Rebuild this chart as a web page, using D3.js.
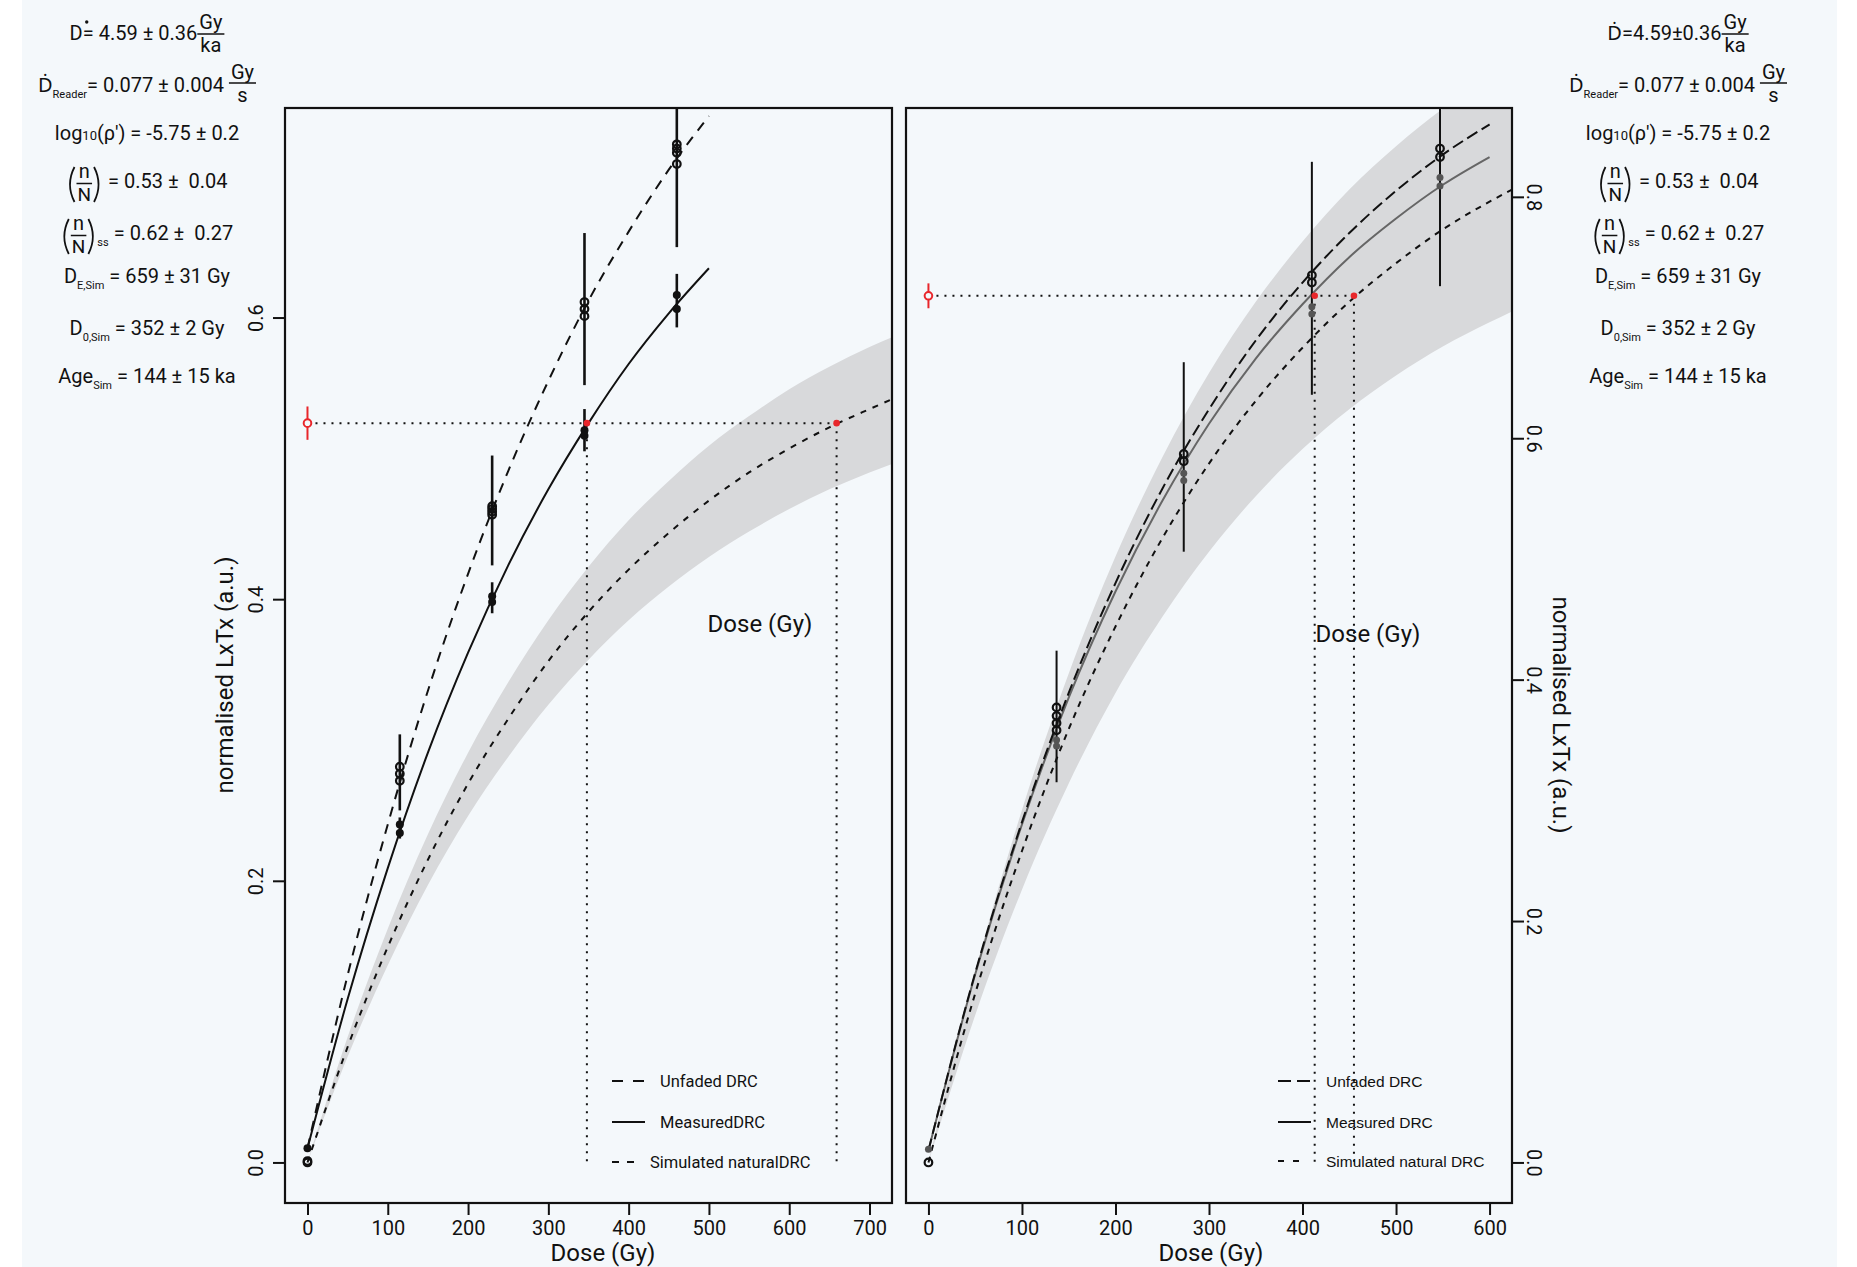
<!DOCTYPE html>
<html>
<head>
<meta charset="utf-8">
<title>DRC simulation</title>
<script src="https://d3js.org/d3.v7.min.js"></script>
<style>
  body { margin: 0; background: #fff; }
  svg text { font-family: Roboto, "Noto Sans", sans-serif; fill: #111; }
  .axis line { stroke: #111; stroke-width: 2px; }
  .axis path { display: none; }
  .axis text { font-size: 20px; font-family: Roboto, sans-serif; }
</style>
</head>
<body>
<svg id="chart" width="1857" height="1267"></svg>
<script>
// ---- left panel data ----
const leftCurveDose = [0, 50, 100, 150, 200, 250, 300, 350, 400, 450, 500];
const leftUnfaded   = [0.010, 0.133, 0.240, 0.335, 0.418, 0.491, 0.555, 0.612, 0.661, 0.705, 0.743];
const leftMeasured  = [0.010, 0.116, 0.209, 0.291, 0.362, 0.424, 0.478, 0.525, 0.567, 0.603, 0.635];
const leftSimDose   = [0, 50, 100, 150, 200, 250, 300, 350, 400, 450, 500, 550, 600, 650, 700, 728];
const leftSimulated = [0.000, 0.082, 0.153, 0.215, 0.269, 0.315, 0.356, 0.391, 0.421, 0.447, 0.470, 0.490, 0.507, 0.522, 0.535, 0.542];
const leftBandUpper = [0.000, 0.089, 0.166, 0.233, 0.291, 0.341, 0.385, 0.423, 0.456, 0.484, 0.509, 0.530, 0.549, 0.565, 0.579, 0.586];
const leftBandLower = [0.000, 0.075, 0.140, 0.197, 0.246, 0.288, 0.325, 0.357, 0.385, 0.409, 0.430, 0.448, 0.464, 0.478, 0.490, 0.496];

const leftOpenDose   = [0, 0, 115, 115, 115, 230, 230, 230, 230, 345, 345, 345, 460, 460, 460, 460];
const leftOpenLx     = [0.000, 0.001, 0.281, 0.276, 0.271, 0.466, 0.464, 0.462, 0.460, 0.611, 0.606, 0.601, 0.723, 0.720, 0.717, 0.709];
const leftFilledDose = [0, 115, 115, 230, 230, 345, 345, 460, 460];
const leftFilledLx   = [0.010, 0.240, 0.234, 0.402, 0.398, 0.520, 0.516, 0.616, 0.606];
const leftBarDose = [115, 230, 345, 460, 115, 230, 345, 460];
const leftBarLow  = [0.250, 0.424, 0.552, 0.650, 0.230, 0.390, 0.505, 0.593];
const leftBarHigh = [0.304, 0.502, 0.660, 0.790, 0.245, 0.412, 0.535, 0.631];
const leftNatural = [0.525, 0.516, 0.534];   // value, low, high
const leftDe = [348, 659];

// ---- right panel data ----
const rightCurveDose = [0, 50, 100, 150, 200, 250, 300, 350, 400, 450, 500, 550, 600];
const rightUnfaded   = [0.010, 0.157, 0.282, 0.389, 0.480, 0.558, 0.624, 0.681, 0.729, 0.770, 0.805, 0.835, 0.860];
const rightMeasured  = [0.010, 0.156, 0.280, 0.385, 0.473, 0.548, 0.612, 0.666, 0.711, 0.750, 0.782, 0.810, 0.833];
const rightSimDose   = [0, 50, 100, 150, 200, 250, 300, 350, 400, 450, 500, 550, 600, 624];
const rightSimulated = [0.000, 0.140, 0.258, 0.359, 0.444, 0.517, 0.579, 0.631, 0.675, 0.713, 0.745, 0.773, 0.796, 0.806];
const rightBandUpper = [0.000, 0.158, 0.292, 0.405, 0.502, 0.584, 0.654, 0.713, 0.763, 0.806, 0.842, 0.873, 0.899, 0.910];
const rightBandLower = [0.000, 0.122, 0.226, 0.314, 0.389, 0.452, 0.506, 0.552, 0.591, 0.624, 0.652, 0.676, 0.696, 0.705];

const rightOpenDose   = [0, 137, 137, 137, 137, 273, 273, 410, 410, 547, 547];
const rightOpenLx     = [0.000, 0.377, 0.370, 0.364, 0.358, 0.587, 0.581, 0.735, 0.729, 0.840, 0.833];
const rightFilledDose = [0, 137, 137, 273, 273, 410, 410, 547, 547];
const rightFilledLx   = [0.011, 0.350, 0.345, 0.571, 0.565, 0.709, 0.703, 0.816, 0.809];
const rightBarDose = [137, 273, 410, 547];
const rightBarLow  = [0.315, 0.506, 0.636, 0.726];
const rightBarHigh = [0.424, 0.663, 0.829, 0.900];
const rightNatural = [0.718, 0.711, 0.725];
const rightDe = [413, 455];

// ---- ticks and labels ----
const leftXTicks = [0, 100, 200, 300, 400, 500, 600, 700];
const leftYTicks = [0, 0.2, 0.4, 0.6];
const rightXTicks = [0, 100, 200, 300, 400, 500, 600];
const rightYTicks = [0, 0.2, 0.4, 0.6, 0.8];
const leftLegend = ["Unfaded DRC", "MeasuredDRC", "Simulated naturalDRC"];
const rightLegend = ["Unfaded DRC", "Measured DRC", "Simulated natural DRC"];

// annotation values
const doseRate = ["4.59", "0.36"];
const readerRate = ["0.077", "0.004"];
const rhoLog = ["-5.75", "0.2"];
const nN = ["0.53", "0.04"];
const nNss = ["0.62", "0.27"];
const deSim = ["659", "31"];
const d0Sim = ["352", "2"];
const ageSim = ["144", "15"];

const svg = d3.select("#chart");
svg.append("rect").attr("x", 22).attr("y", 0).attr("width", 1815).attr("height", 1267).attr("fill", "#f4f8fb");

const RED = "#e8262b";

function drawPanel(p) {
  const x = d3.scaleLinear().domain(p.xDomain).range([p.left, p.right]);
  const y = d3.scaleLinear().domain(p.yDomain).range([p.bottom, p.top]);

  svg.append("clipPath").attr("id", p.id).append("rect")
    .attr("x", p.left).attr("y", p.top)
    .attr("width", p.right - p.left).attr("height", p.bottom - p.top);
  const g = svg.append("g").attr("clip-path", `url(#${p.id})`);

  // uncertainty band of the simulated curve
  const area = d3.area().x(d => x(d[0])).y0(d => y(d[1])).y1(d => y(d[2])).curve(d3.curveMonotoneX);
  g.append("path").datum(d3.zip(p.simDose, p.bandLower, p.bandUpper))
    .attr("d", area).attr("fill", "#d8d9db");

  // dotted De lines
  const nat = p.natural;
  g.append("line").attr("x1", x(0)).attr("x2", x(d3.max(p.de)))
    .attr("y1", y(nat[0])).attr("y2", y(nat[0]))
    .attr("stroke", "#111").attr("stroke-width", 2).attr("stroke-dasharray", "2 6");
  g.selectAll(".deline").data(p.de).enter().append("line")
    .attr("x1", d => x(d)).attr("x2", d => x(d))
    .attr("y1", y(nat[0])).attr("y2", y(0))
    .attr("stroke", "#111").attr("stroke-width", 2).attr("stroke-dasharray", "2 6");

  const line = d3.line().x(d => x(d[0])).y(d => y(d[1])).curve(d3.curveMonotoneX);
  g.append("path").datum(d3.zip(p.simDose, p.simulated)).attr("d", line)
    .attr("fill", "none").attr("stroke", "#111").attr("stroke-width", 2).attr("stroke-dasharray", p.shortDash);
  g.append("path").datum(d3.zip(p.curveDose, p.measured)).attr("d", line)
    .attr("fill", "none").attr("stroke", p.measuredColor).attr("stroke-width", 2);
  g.append("path").datum(d3.zip(p.curveDose, p.unfaded)).attr("d", line)
    .attr("fill", "none").attr("stroke", "#111").attr("stroke-width", 2).attr("stroke-dasharray", p.longDash);

  // error bars
  g.selectAll(".bar").data(d3.zip(p.barDose, p.barLow, p.barHigh)).enter().append("line")
    .attr("x1", d => x(d[0])).attr("x2", d => x(d[0]))
    .attr("y1", d => y(d[1])).attr("y2", d => y(d[2]))
    .attr("stroke", "#111").attr("stroke-width", p.barWidth);

  // points
  g.selectAll(".filled").data(d3.zip(p.filledDose, p.filledLx)).enter().append("circle")
    .attr("cx", d => x(d[0])).attr("cy", d => y(d[1])).attr("r", p.filledR)
    .attr("fill", p.filledColor);
  g.selectAll(".open").data(d3.zip(p.openDose, p.openLx)).enter().append("circle")
    .attr("cx", d => x(d[0])).attr("cy", d => y(d[1])).attr("r", 3.8)
    .attr("fill", "none").attr("stroke", "#111").attr("stroke-width", 2.2);

  // natural signal and De points
  g.append("line").attr("x1", x(0)).attr("x2", x(0)).attr("y1", y(nat[1]) + 4).attr("y2", y(nat[2]) - 4)
    .attr("stroke", RED).attr("stroke-width", 2);
  g.append("circle").attr("cx", x(0)).attr("cy", y(nat[0])).attr("r", 3.8)
    .attr("fill", "#f4f8fb").attr("stroke", RED).attr("stroke-width", 2);
  g.selectAll(".de").data(p.de).enter().append("circle")
    .attr("cx", d => x(d)).attr("cy", y(nat[0])).attr("r", 3.3).attr("fill", RED);

  // box
  svg.append("rect").attr("x", p.left).attr("y", p.top)
    .attr("width", p.right - p.left).attr("height", p.bottom - p.top)
    .attr("fill", "none").attr("stroke", "#111").attr("stroke-width", 2.2);

  // axes
  svg.append("g").attr("class", "axis").attr("transform", `translate(0,${p.bottom})`)
    .call(d3.axisBottom(x).tickValues(p.xTicks).tickSize(12).tickPadding(6).tickFormat(d3.format("d")));
  if (p.ySide === "left") {
    const ax = svg.append("g").attr("class", "axis").attr("transform", `translate(${p.left},0)`)
      .call(d3.axisLeft(y).tickValues(p.yTicks).tickSize(12).tickFormat(d3.format(".1f")));
    ax.selectAll(".tick text").attr("transform", "rotate(-90)").attr("x", 0).attr("y", -29)
      .attr("dy", "0.35em").attr("text-anchor", "middle");
  } else {
    const ax = svg.append("g").attr("class", "axis").attr("transform", `translate(${p.right},0)`)
      .call(d3.axisRight(y).tickValues(p.yTicks).tickSize(12).tickFormat(d3.format(".1f")));
    ax.selectAll(".tick text").attr("transform", "rotate(90)").attr("x", 0).attr("y", -22)
      .attr("dy", "0.35em").attr("text-anchor", "middle");
  }
  return { x, y };
}

drawPanel({
  id: "clipL", left: 285, right: 892, top: 108, bottom: 1203,
  xDomain: [-28, 728], yDomain: [-0.0288, 0.7488],
  curveDose: leftCurveDose, unfaded: leftUnfaded, measured: leftMeasured,
  simDose: leftSimDose, simulated: leftSimulated, bandUpper: leftBandUpper, bandLower: leftBandLower,
  openDose: leftOpenDose, openLx: leftOpenLx, filledDose: leftFilledDose, filledLx: leftFilledLx,
  barDose: leftBarDose, barLow: leftBarLow, barHigh: leftBarHigh,
  natural: leftNatural, de: leftDe,
  xTicks: leftXTicks, yTicks: leftYTicks, ySide: "left",
  longDash: "10 8", shortDash: "6 7", measuredColor: "#111",
  filledColor: "#111", filledR: 4, barWidth: 2.6
});

drawPanel({
  id: "clipR", left: 906, right: 1512, top: 108, bottom: 1203,
  xDomain: [-24, 624], yDomain: [-0.0336, 0.8736],
  curveDose: rightCurveDose, unfaded: rightUnfaded, measured: rightMeasured,
  simDose: rightSimDose, simulated: rightSimulated, bandUpper: rightBandUpper, bandLower: rightBandLower,
  openDose: rightOpenDose, openLx: rightOpenLx, filledDose: rightFilledDose, filledLx: rightFilledLx,
  barDose: rightBarDose, barLow: rightBarLow, barHigh: rightBarHigh,
  natural: rightNatural, de: rightDe,
  xTicks: rightXTicks, yTicks: rightYTicks, ySide: "right",
  longDash: "12 5", shortDash: "6 6", measuredColor: "#666",
  filledColor: "#555", filledR: 3.5, barWidth: 2
});

// axis titles
function title(txt, x, y, rot, size) {
  svg.append("text").attr("transform", `translate(${x},${y}) rotate(${rot})`)
    .attr("text-anchor", "middle").style("font-size", size + "px").text(txt);
}
title("Dose (Gy)", 603, 1261, 0, 24);
title("Dose (Gy)", 1211, 1261, 0, 24);
title("normalised LxTx (a.u.)", 233, 675, -90, 24);
title("normalised LxTx (a.u.)", 1553, 715, 90, 24);
title("Dose (Gy)", 760, 632, 0, 24);
title("Dose (Gy)", 1368, 642, 0, 24);

// legends
function legend(items, x0, x1s, xt, ys, dashes, font, size) {
  items.forEach((t, i) => {
    svg.append("line").attr("x1", x0).attr("x2", x1s[i]).attr("y1", ys[i]).attr("y2", ys[i])
      .attr("stroke", "#111").attr("stroke-width", 2).attr("stroke-dasharray", dashes[i]);
    svg.append("text").attr("x", xt[i]).attr("y", ys[i] + size * 0.36)
      .style("font-family", font).style("font-size", size + "px").text(t);
  });
}
legend(leftLegend, 612, [645, 645, 635], [660, 660, 650], [1081, 1122, 1162],
  ["11 10", null, "7 8"], "Roboto, sans-serif", 16.5);
legend(rightLegend, 1278, [1311, 1311, 1300], [1326, 1326, 1326], [1081, 1122, 1161],
  ["13 6", null, "6 9"], "'Liberation Sans', Arial, sans-serif", 15.5);

// ---- formula blocks ----
function mathLine(cx, base, parts) {
  const g = svg.append("g");
  let cur = 0;
  parts.forEach(p => {
    if (p.k === "t" || p.k === "sub" || p.k === "small") {
      const size = p.k === "t" ? 20 : p.k === "sub" ? 11 : 13;
      const dy = p.k === "sub" ? 6 : 0;
      const t = g.append("text").attr("x", cur).attr("y", dy)
        .style("font-size", size + "px").style("white-space", "pre").text(p.s);
      if (p.dot !== undefined) {
        g.append("circle").attr("cx", cur + p.dot).attr("cy", -18).attr("r", 1.7).attr("fill", "#111");
      }
      cur += t.node().getComputedTextLength();
    } else if (p.k === "frac") {
      const n = g.append("text").attr("y", p.nb).attr("text-anchor", "middle").style("font-size", "20px").text(p.n);
      const d = g.append("text").attr("y", p.db).attr("text-anchor", "middle").style("font-size", "20px").text(p.d);
      const w = Math.max(n.node().getComputedTextLength(), d.node().getComputedTextLength()) + 4;
      n.attr("x", cur + w / 2); d.attr("x", cur + w / 2);
      g.append("line").attr("x1", cur).attr("x2", cur + w).attr("y1", p.bar).attr("y2", p.bar)
        .attr("stroke", "#111").attr("stroke-width", 1.5);
      cur += w;
    } else if (p.k === "pfrac") {
      const n = g.append("text").attr("y", -10).attr("text-anchor", "middle").style("font-size", "20px").text(p.n);
      const d = g.append("text").attr("y", 13).attr("text-anchor", "middle").style("font-size", "19px").text(p.d);
      const w = Math.max(n.node().getComputedTextLength(), d.node().getComputedTextLength()) + 2;
      const l = cur + 1, fx = cur + 10;
      g.append("path").attr("d", `M${l + 7},-21 Q${l - 2},-3.5 ${l + 7},14`)
        .attr("fill", "none").attr("stroke", "#111").attr("stroke-width", 1.8);
      n.attr("x", fx + w / 2); d.attr("x", fx + w / 2);
      g.append("line").attr("x1", fx).attr("x2", fx + w).attr("y1", -4.5).attr("y2", -4.5)
        .attr("stroke", "#111").attr("stroke-width", 1.5);
      const r = fx + w + 2;
      g.append("path").attr("d", `M${r},-21 Q${r + 9},-3.5 ${r},14`)
        .attr("fill", "none").attr("stroke", "#111").attr("stroke-width", 1.8);
      cur = r + 9;
    }
  });
  g.attr("transform", `translate(${cx - cur / 2},${base})`);
}

const baselines = [40, 92, 140, 188, 240, 283, 335, 383];

function formulaBlock(cx, compactFirst) {
  const first = compactFirst
    ? [{ k: "t", s: "Ḋ=" + doseRate[0] + "±" + doseRate[1] }]
    : [{ k: "t", s: "D" }, { k: "t", s: "= " + doseRate[0] + " ± " + doseRate[1], dot: 4 }];
  mathLine(cx, baselines[0], first.concat([{ k: "frac", n: "Gy", d: "ka", nb: -11, bar: -6, db: 12 }]));
  mathLine(cx, baselines[1], [{ k: "t", s: "Ḋ" }, { k: "sub", s: "Reader" },
    { k: "t", s: "= " + readerRate[0] + " ± " + readerRate[1] + " " },
    { k: "frac", n: "Gy", d: "s", nb: -13, bar: -9, db: 10 }]);
  mathLine(cx, baselines[2], [{ k: "t", s: "log" }, { k: "small", s: "10" },
    { k: "t", s: "(ρ′) = " + rhoLog[0] + " ± " + rhoLog[1] }]);
  mathLine(cx, baselines[3], [{ k: "pfrac", n: "n", d: "N" },
    { k: "t", s: " = " + nN[0] + " ±  " + nN[1] }]);
  mathLine(cx, baselines[4], [{ k: "pfrac", n: "n", d: "N" }, { k: "sub", s: "ss" },
    { k: "t", s: " = " + nNss[0] + " ±  " + nNss[1] }]);
  mathLine(cx, baselines[5], [{ k: "t", s: "D" }, { k: "sub", s: "E,Sim" },
    { k: "t", s: " = " + deSim[0] + " ± " + deSim[1] + " Gy" }]);
  mathLine(cx, baselines[6], [{ k: "t", s: "D" }, { k: "sub", s: "0,Sim" },
    { k: "t", s: " = " + d0Sim[0] + " ± " + d0Sim[1] + " Gy" }]);
  mathLine(cx, baselines[7], [{ k: "t", s: "Age" }, { k: "sub", s: "Sim" },
    { k: "t", s: " = " + ageSim[0] + " ± " + ageSim[1] + " ka" }]);
}
formulaBlock(147, false);
formulaBlock(1678, true);
</script>
</body>
</html>
